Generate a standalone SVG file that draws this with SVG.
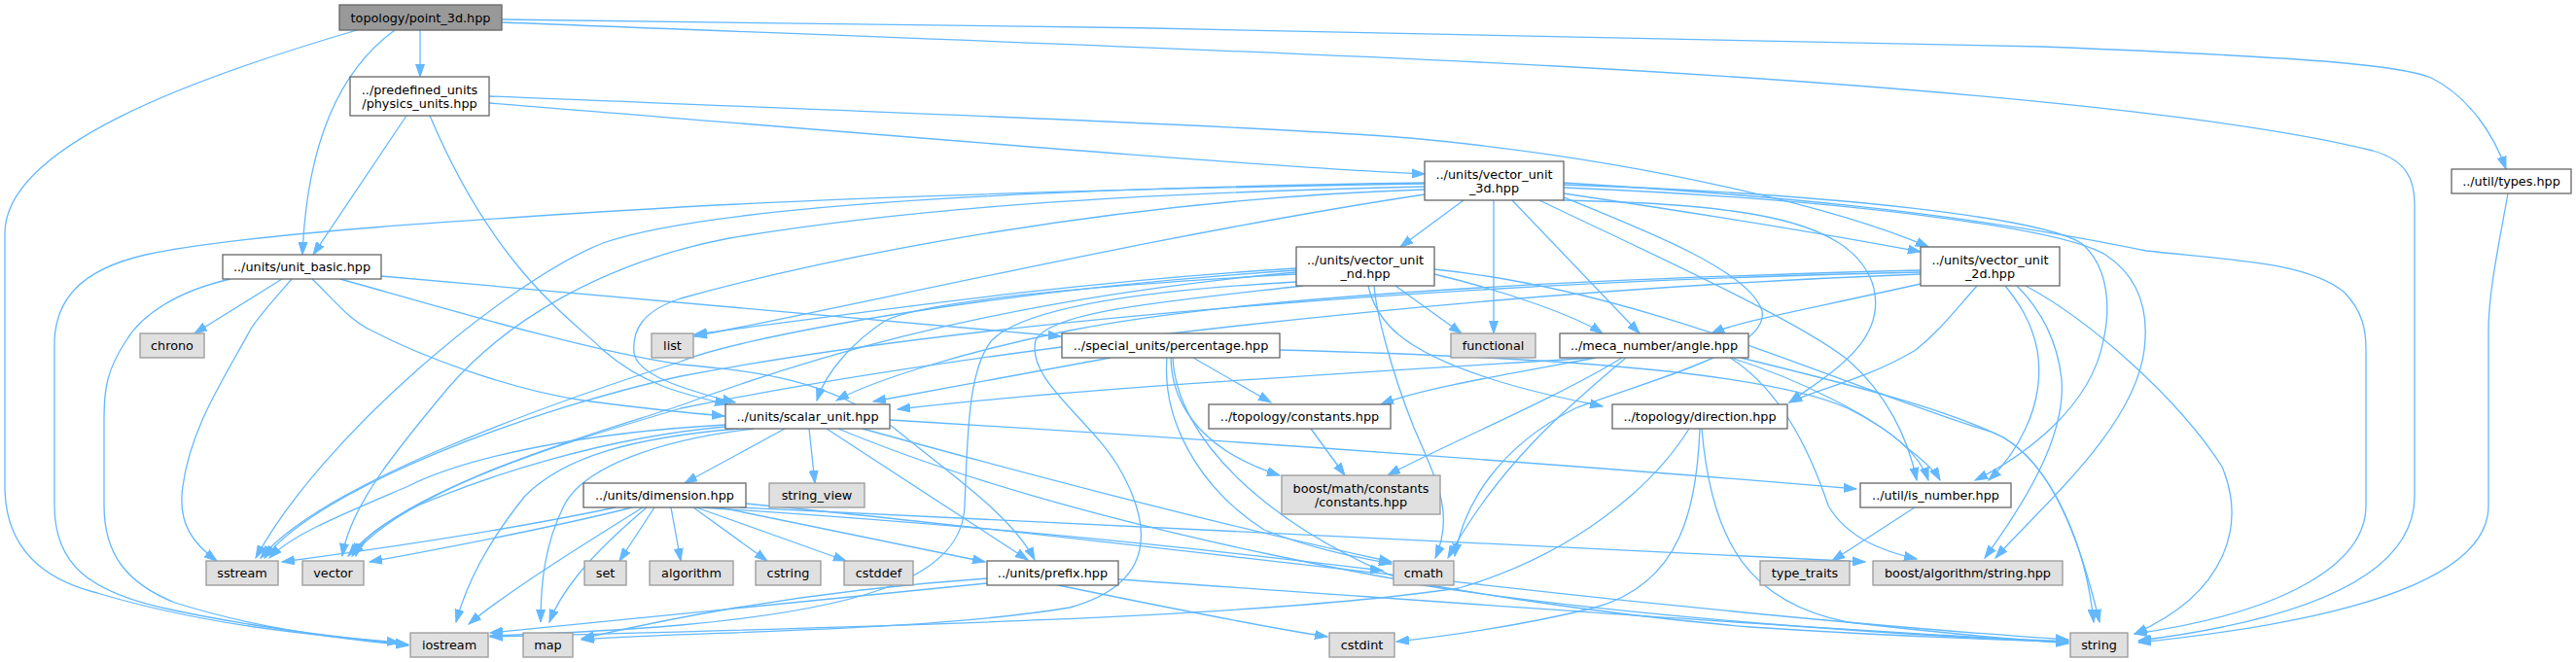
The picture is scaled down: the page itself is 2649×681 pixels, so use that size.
<svg xmlns="http://www.w3.org/2000/svg" width="2649" height="681" viewBox="0 0 2649 681">
<style>
.e{fill:none;stroke:#63b8ff;stroke-width:1.3;marker-end:url(#ah)}
.ni rect{fill:#ffffff;stroke:#666666;stroke-width:1.3}
.nx rect{fill:#e0e0e0;stroke:#999999;stroke-width:1.3}
.nr rect{fill:#999999;stroke:#666666;stroke-width:1.3}
text{font-family:"DejaVu Sans","Liberation Sans",sans-serif;font-size:12.8px;fill:#000;text-anchor:middle}
</style>
<defs>
<marker id="ah" markerUnits="userSpaceOnUse" markerWidth="14" markerHeight="10" refX="13" refY="5" orient="auto">
<path d="M0,0.5 L13,5 L0,9.5 z" fill="#63b8ff" stroke="#63b8ff" stroke-width="1"/>
</marker>
</defs>
<rect width="2649" height="681" fill="#ffffff"/>
<g id="edges">
<path class="e" d="M432,31 L432,79"/>
<path class="e" d="M406,31 C352,70 316,140 311,262"/>
<path class="e" d="M367,31 C200,80 5,150 5,240 L5,500 C5,560 40,595 100,610 C200,640 300,652 411,661"/>
<path class="e" d="M516,23 C900,38 1300,52 1600,68 C2000,90 2300,120 2440,155 C2475,165 2483,185 2483,210 L2483,510 C2483,600 2350,640 2199,659"/>
<path class="e" d="M516,20 C1000,25 1800,38 2100,48 C2400,60 2470,68 2500,80 C2540,100 2565,140 2577,174"/>
<path class="e" d="M418,119 L322,262"/>
<path class="e" d="M442,119 C510,280 590,330 620,360 C660,395 700,405 748,416"/>
<path class="e" d="M503,106 C900,138 1300,172 1465,179"/>
<path class="e" d="M503,99 C900,115 1300,130 1450,142 C1700,165 1900,218 1983,254"/>
<path class="e" d="M290,287 L200,343"/>
<path class="e" d="M300,287 C280,310 262,330 257,340 C230,390 196,440 188,500 C182,540 200,560 223,577"/>
<path class="e" d="M237,287 C180,300 145,325 130,350 C110,380 107,400 107,430 L107,520 C107,570 130,600 180,620 C260,645 330,655 420,664"/>
<path class="e" d="M321,287 C345,310 360,330 382,340 C430,365 520,400 600,412 C660,420 710,425 745,428"/>
<path class="e" d="M350,287 C450,315 600,360 700,375 C780,382 850,390 919,440 C980,490 1040,530 1064,576"/>
<path class="e" d="M392,284 C700,310 900,330 1091,346"/>
<path class="e" d="M1505,206 L1440,254"/>
<path class="e" d="M1536,206 L1536,343"/>
<path class="e" d="M1555,206 L1686,343"/>
<path class="e" d="M1608,199 C1750,220 1900,245 1975,259"/>
<path class="e" d="M1608,206 C1780,210 1900,222 1925,290 C1945,350 1880,385 1840,414"/>
<path class="e" d="M1583,206 C1700,262 1850,330 1900,370 C1940,405 1962,450 1971,494"/>
<path class="e" d="M1608,190 C1900,200 2100,225 2140,250 C2170,275 2170,320 2163,350 C2150,420 2080,470 2031,494"/>
<path class="e" d="M1608,193 C1900,205 2120,235 2165,262 C2200,285 2210,320 2205,360 C2195,440 2100,520 2052,574"/>
<path class="e" d="M1608,188 C1800,200 2000,215 2207,258 C2300,268 2372,270 2410,300 C2430,320 2433,340 2433,360 L2433,520 C2433,580 2350,630 2195,652"/>
<path class="e" d="M1465,200 C1200,240 900,310 714,346"/>
<path class="e" d="M1465,188 C1000,195 720,215 620,250 C520,290 330,450 263,574"/>
<path class="e" d="M1465,192 C1100,200 900,220 750,245 C620,270 520,330 460,400 C410,460 360,520 352,572"/>
<path class="e" d="M1465,189 C1100,195 850,205 700,213 C500,225 250,240 150,262 C80,278 58,310 56,350 L56,520 C56,580 90,610 180,628 C260,645 340,655 420,663"/>
<path class="e" d="M1465,195 C1150,205 850,265 700,307 C660,320 650,340 652,363 C655,385 700,400 756,414"/>
<path class="e" d="M1608,203 C1700,240 1800,280 1812,320 C1820,360 1700,390 1620,420 C1540,460 1505,520 1496,572"/>
<path class="e" d="M2579,199 C2570,250 2559,300 2559,340 L2559,520 C2559,600 2400,640 2199,661"/>
<path class="e" d="M1333,276 C1100,290 900,320 714,344"/>
<path class="e" d="M1333,278 C1000,300 750,350 700,372 C550,420 330,500 268,574"/>
<path class="e" d="M1333,280 C1000,310 800,380 700,417 C600,450 420,500 358,572"/>
<path class="e" d="M1333,282 C1100,295 950,310 910,330 C880,350 850,380 840,412"/>
<path class="e" d="M1435,294 L1503,343"/>
<path class="e" d="M1475,282 C1550,300 1620,325 1648,343"/>
<path class="e" d="M1413,294 C1415,320 1430,380 1454,440 C1480,500 1495,530 1476,574"/>
<path class="e" d="M1333,290 C1150,300 1050,320 1020,350 C995,380 995,450 992,520 C990,590 900,625 700,643 C620,650 560,652 504,654"/>
<path class="e" d="M1340,294 C1200,310 1080,320 1065,350 C1055,390 1120,430 1150,480 C1185,540 1190,600 1100,625 C950,650 700,650 598,658"/>
<path class="e" d="M1407,294 C1415,330 1440,360 1534,390 C1580,405 1620,412 1648,418"/>
<path class="e" d="M1475,277 C1700,300 1900,400 2050,445 C2110,470 2140,560 2159,640"/>
<path class="e" d="M1975,278 C1700,285 1300,300 1100,340 C1000,360 900,390 860,412"/>
<path class="e" d="M1975,280 C1500,290 1000,330 700,387 C550,420 330,500 272,574"/>
<path class="e" d="M1975,282 C1500,300 1000,360 700,420 C600,450 420,500 362,572"/>
<path class="e" d="M1975,292 C1850,320 1790,330 1760,343"/>
<path class="e" d="M2033,294 C2010,320 1995,340 1970,360 C1920,390 1870,400 1840,414"/>
<path class="e" d="M2062,294 C2075,310 2089,330 2095,360 C2105,420 2070,470 2045,494"/>
<path class="e" d="M2074,294 C2095,315 2115,345 2120,390 C2125,450 2080,520 2041,574"/>
<path class="e" d="M2083,294 C2150,330 2240,410 2285,480 C2310,540 2290,610 2195,652"/>
<path class="e" d="M1142,368 L898,413"/>
<path class="e" d="M1227,368 L1307,414"/>
<path class="e" d="M1204,368 C1205,420 1240,465 1316,489"/>
<path class="e" d="M1200,368 C1195,430 1230,500 1300,545 C1350,565 1390,572 1431,580"/>
<path class="e" d="M1206,368 C1210,450 1300,540 1450,600 C1700,640 2000,655 2127,661"/>
<path class="e" d="M1316,360 C1500,365 1800,375 1900,420 C1950,445 1975,470 1983,494"/>
<path class="e" d="M1640,368 C1400,383 1100,400 923,421"/>
<path class="e" d="M1641,368 C1550,385 1460,400 1420,416"/>
<path class="e" d="M1668,368 C1600,410 1480,460 1427,489"/>
<path class="e" d="M1672,368 C1610,420 1540,480 1489,574"/>
<path class="e" d="M1780,368 C1850,390 1930,430 1960,460 C1980,475 1990,485 1995,494"/>
<path class="e" d="M1779,368 C1830,400 1860,460 1880,520 C1900,555 1940,568 1971,575"/>
<path class="e" d="M1790,368 C1900,395 2000,420 2060,450 C2110,480 2145,560 2153,640"/>
<path class="e" d="M807,441 L704,497"/>
<path class="e" d="M832,441 L838,497"/>
<path class="e" d="M850,441 L1057,576"/>
<path class="e" d="M862,441 C1100,540 1500,620 1800,645 C1950,655 2050,658 2127,660"/>
<path class="e" d="M887,441 C1100,500 1300,550 1431,578"/>
<path class="e" d="M915,432 C1300,455 1700,485 1909,503"/>
<path class="e" d="M746,437 C600,445 480,470 420,500 C350,530 300,550 277,574"/>
<path class="e" d="M746,439 C620,450 500,490 430,520 C390,540 370,555 366,572"/>
<path class="e" d="M760,441 C650,450 580,470 540,510 C500,560 480,600 469,640"/>
<path class="e" d="M775,441 C680,452 600,480 580,520 C560,560 556,600 556,640"/>
<path class="e" d="M1348,441 L1383,489"/>
<path class="e" d="M1737,441 C1700,500 1620,570 1500,605 C1300,635 900,645 504,655"/>
<path class="e" d="M1748,441 C1745,520 1730,600 1640,625 C1560,645 1480,655 1436,660"/>
<path class="e" d="M1750,441 C1760,560 1800,620 1900,640 C2000,652 2080,658 2127,662"/>
<path class="e" d="M633,522 C500,550 350,570 290,578"/>
<path class="e" d="M650,522 C560,545 450,565 380,578"/>
<path class="e" d="M673,522 L637,577"/>
<path class="e" d="M690,522 L700,577"/>
<path class="e" d="M713,522 L789,577"/>
<path class="e" d="M716,522 L870,577"/>
<path class="e" d="M740,522 L1013,578"/>
<path class="e" d="M661,522 C600,560 520,610 482,642"/>
<path class="e" d="M665,522 C620,560 580,600 565,640"/>
<path class="e" d="M722,522 C1000,540 1200,560 1422,587"/>
<path class="e" d="M760,522 C1200,545 1600,565 1918,578"/>
<path class="e" d="M767,518 C1200,560 1700,630 2127,658"/>
<path class="e" d="M1969,522 L1884,577"/>
<path class="e" d="M1015,600 C800,620 600,640 504,651"/>
<path class="e" d="M1015,595 C800,610 650,645 598,657"/>
<path class="e" d="M1088,602 C1200,625 1300,645 1365,655"/>
<path class="e" d="M1150,596 C1500,620 1900,650 2127,660"/>
</g>
<g id="n_point_3d" class="nr"><rect x="349" y="5" width="167" height="26"/><text x="432.5" y="23">topology/point_3d.hpp</text></g>
<g id="n_physics_units" class="ni"><rect x="360" y="79" width="143" height="40"/><text x="431.5" y="97">../predefined_units</text><text x="431.5" y="111">/physics_units.hpp</text></g>
<g id="n_unit_basic" class="ni"><rect x="229" y="262" width="163" height="25"/><text x="310.5" y="279">../units/unit_basic.hpp</text></g>
<g id="n_vector_unit_3d" class="ni"><rect x="1465" y="166" width="143" height="40"/><text x="1536.5" y="184">../units/vector_unit</text><text x="1536.5" y="198">_3d.hpp</text></g>
<g id="n_types" class="ni"><rect x="2521" y="174" width="123" height="25"/><text x="2582.5" y="191">../util/types.hpp</text></g>
<g id="n_vector_unit_nd" class="ni"><rect x="1333" y="254" width="142" height="40"/><text x="1404" y="272">../units/vector_unit</text><text x="1404" y="286">_nd.hpp</text></g>
<g id="n_vector_unit_2d" class="ni"><rect x="1975" y="254" width="143" height="40"/><text x="2046.5" y="272">../units/vector_unit</text><text x="2046.5" y="286">_2d.hpp</text></g>
<g id="n_chrono" class="nx"><rect x="144" y="343" width="66" height="25"/><text x="177" y="360">chrono</text></g>
<g id="n_list" class="nx"><rect x="670" y="343" width="43" height="25"/><text x="691.5" y="360">list</text></g>
<g id="n_percentage" class="ni"><rect x="1092" y="343" width="224" height="25"/><text x="1204" y="360">../special_units/percentage.hpp</text></g>
<g id="n_functional" class="nx"><rect x="1492" y="343" width="87" height="25"/><text x="1535.5" y="360">functional</text></g>
<g id="n_angle" class="ni"><rect x="1604" y="343" width="194" height="25"/><text x="1701" y="360">../meca_number/angle.hpp</text></g>
<g id="n_scalar_unit" class="ni"><rect x="746" y="416" width="169" height="25"/><text x="830.5" y="433">../units/scalar_unit.hpp</text></g>
<g id="n_constants" class="ni"><rect x="1243" y="416" width="187" height="25"/><text x="1336.5" y="433">../topology/constants.hpp</text></g>
<g id="n_direction" class="ni"><rect x="1658" y="416" width="180" height="25"/><text x="1748" y="433">../topology/direction.hpp</text></g>
<g id="n_dimension" class="ni"><rect x="600" y="497" width="167" height="25"/><text x="683.5" y="514">../units/dimension.hpp</text></g>
<g id="n_string_view" class="nx"><rect x="791" y="497" width="98" height="25"/><text x="840" y="514">string_view</text></g>
<g id="n_boost_math" class="nx"><rect x="1318" y="489" width="163" height="40"/><text x="1399.5" y="507">boost/math/constants</text><text x="1399.5" y="521">/constants.hpp</text></g>
<g id="n_is_number" class="ni"><rect x="1913" y="497" width="155" height="25"/><text x="1990.5" y="514">../util/is_number.hpp</text></g>
<g id="n_sstream" class="nx"><rect x="212" y="577" width="74" height="25"/><text x="249" y="594">sstream</text></g>
<g id="n_vector" class="nx"><rect x="311" y="577" width="63" height="25"/><text x="342.5" y="594">vector</text></g>
<g id="n_set" class="nx"><rect x="601" y="577" width="43" height="25"/><text x="622.5" y="594">set</text></g>
<g id="n_algorithm" class="nx"><rect x="668" y="577" width="86" height="25"/><text x="711" y="594">algorithm</text></g>
<g id="n_cstring" class="nx"><rect x="777" y="577" width="67" height="25"/><text x="810.5" y="594">cstring</text></g>
<g id="n_cstddef" class="nx"><rect x="868" y="577" width="71" height="25"/><text x="903.5" y="594">cstddef</text></g>
<g id="n_prefix" class="ni"><rect x="1015" y="577" width="135" height="25"/><text x="1082.5" y="594">../units/prefix.hpp</text></g>
<g id="n_cmath" class="nx"><rect x="1433" y="577" width="62" height="25"/><text x="1464" y="594">cmath</text></g>
<g id="n_type_traits" class="nx"><rect x="1810" y="577" width="92" height="25"/><text x="1856" y="594">type_traits</text></g>
<g id="n_boost_alg_string" class="nx"><rect x="1926" y="577" width="195" height="25"/><text x="2023.5" y="594">boost/algorithm/string.hpp</text></g>
<g id="n_iostream" class="nx"><rect x="422" y="651" width="80" height="25"/><text x="462" y="668">iostream</text></g>
<g id="n_map" class="nx"><rect x="538" y="651" width="51" height="25"/><text x="563.5" y="668">map</text></g>
<g id="n_cstdint" class="nx"><rect x="1367" y="651" width="67" height="25"/><text x="1400.5" y="668">cstdint</text></g>
<g id="n_string" class="nx"><rect x="2129" y="651" width="59" height="25"/><text x="2158.5" y="668">string</text></g>
</svg>
